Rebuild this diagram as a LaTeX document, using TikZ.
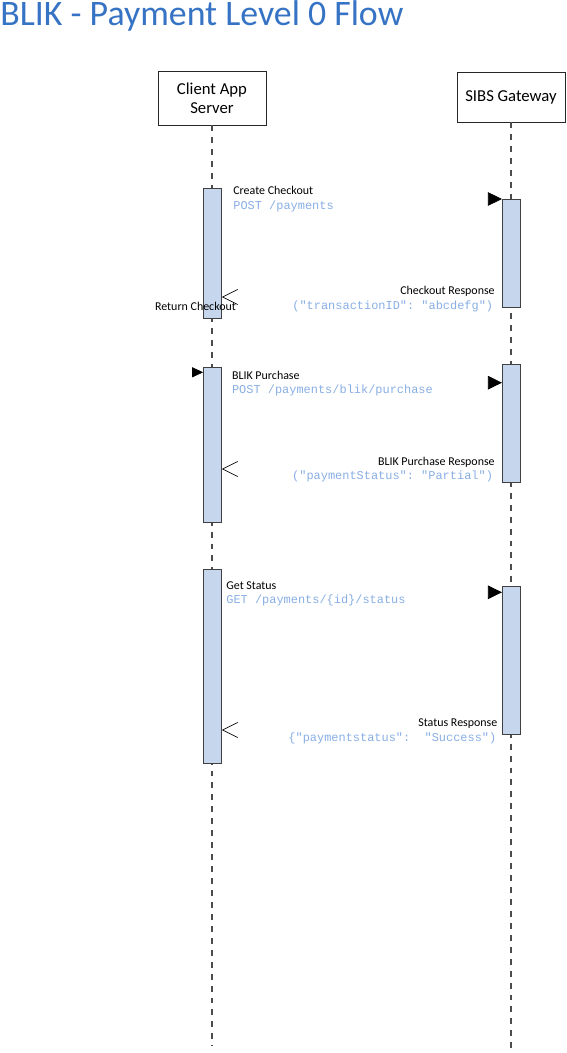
\documentclass[tikz,border=0pt]{standalone}
\usepackage{fontspec}
\setmainfont{Carlito}
\setmonofont{Liberation Mono}
\usepackage{xcolor}
\usetikzlibrary{positioning,calc,arrows.meta}

\definecolor{titleblue}{HTML}{3673C4}
\definecolor{codeblue}{HTML}{88AEE4}
\definecolor{actfill}{HTML}{C6D6EC}

\begin{document}
\begin{tikzpicture}[x=0.02cm, y=-0.02cm,
    actor/.style={draw=black!85, fill=white, align=center, minimum width=2.16cm, font=\fontsize{9.5}{10.8}\selectfont},
    lifeline/.style={draw=black!70, dash pattern=on 3.4pt off 3.4pt, line width=0.6pt},
    act/.style={draw=black!75, fill=actfill, minimum width=0.36cm, inner sep=0pt},
    call/.style={draw=white, -{Triangle[length=0.28cm, width=0.27cm, color=black]}},
    found/.style={draw=white, -{Triangle[length=0.22cm, width=0.2cm, color=black]}},
    reply/.style={draw=white, -{Straight Barb[length=0.3cm, width=0.3cm, color=black]}},
    lbl/.style={inner sep=0pt, font=\fontsize{6.8}{8}\selectfont},
    code/.style={inner sep=0pt, text=codeblue, font=\fontsize{6.8}{8}\ttfamily}]
  \useasboundingbox (0,0) rectangle (566,1053);

  % Title
  \node[anchor=base west, inner sep=0pt, text=titleblue, font=\fontsize{20.4}{24}\selectfont] (title) at (0,25.5) {BLIK - Payment Level 0 Flow};

  % Actors and lifelines
  \node[actor, minimum height=1.08cm] (client) at (212,98) {Client App\\Server};
  \node[actor, minimum height=1.0cm] (gateway) at (511,97) {SIBS Gateway};
  \coordinate (clientEnd) at (212,1046);
  \coordinate (gatewayEnd) at (511,1053);
  \draw[lifeline] (client) -- (clientEnd);
  \draw[lifeline] (gateway) -- (gatewayEnd);

  % Activation bars
  \node[act, minimum height=2.6cm] (c1) at (212.5,253) {};
  \node[act, minimum height=2.16cm] (g1) at (511.3,253) {};
  \node[act, minimum height=3.1cm] (c2) at (212.5,444.5) {};
  \node[act, minimum height=2.36cm] (g2) at (511.3,423) {};
  \node[act, minimum height=3.88cm] (c3) at (212.5,666) {};
  \node[act, minimum height=2.96cm] (g3) at (511.3,660) {};

  % Create Checkout
  \coordinate (m1) at (0,199);
  \coordinate (r1) at (0,297);
  \draw[call] (c1.east |- m1) -- (g1.west |- m1);
  \draw[reply] (g1.west |- r1) -- (c1.east |- r1);
  \node[lbl, anchor=base west] (m1a) at (233,195) {Create Checkout};
  \node[code, anchor=base west] (m1b) at (233,209.6) {POST /payments};
  \node[lbl, anchor=base east] (r1a) at (495,295) {Checkout Response};
  \node[code, anchor=base east] (r1b) at (493.5,309.6) {("transactionID": "abcdefg")};
  \node[lbl, anchor=base west] (r1c) at (154.7,310.3) {Return Checkout};

  % BLIK Purchase
  \coordinate (f2) at (185,372.3);
  \coordinate (m2) at (0,382.7);
  \coordinate (r2) at (0,469);
  \draw[found] (f2) -- (c2.west |- f2);
  \draw[call] (c2.east |- m2) -- (g2.west |- m2);
  \draw[reply] (g2.west |- r2) -- (c2.east |- r2);
  \node[lbl, anchor=base west] (m2a) at (231.7,380) {BLIK Purchase};
  \node[code, anchor=base west] (m2b) at (231.7,393.6) {POST /payments/blik/purchase};
  \node[lbl, anchor=base east] (r2a) at (495,465) {BLIK Purchase Response};
  \node[code, anchor=base east] (r2b) at (493.3,479.3) {("paymentStatus": "Partial")};

  % Get Status
  \coordinate (m3) at (0,592.3);
  \coordinate (r3) at (0,730);
  \draw[call] (c3.east |- m3) -- (g3.west |- m3);
  \draw[reply] (g3.west |- r3) -- (c3.east |- r3);
  \node[lbl, anchor=base west] (m3a) at (226,589) {Get Status};
  \node[code, anchor=base west] (m3b) at (226,603.3) {GET /payments/\{id\}/status};
  \node[lbl, anchor=base east] (r3a) at (497.7,726.6) {Status Response};
  \node[code, anchor=base east] (r3b) at (496.7,741) {\{"paymentstatus":~~"Success")};
\end{tikzpicture}
\end{document}
